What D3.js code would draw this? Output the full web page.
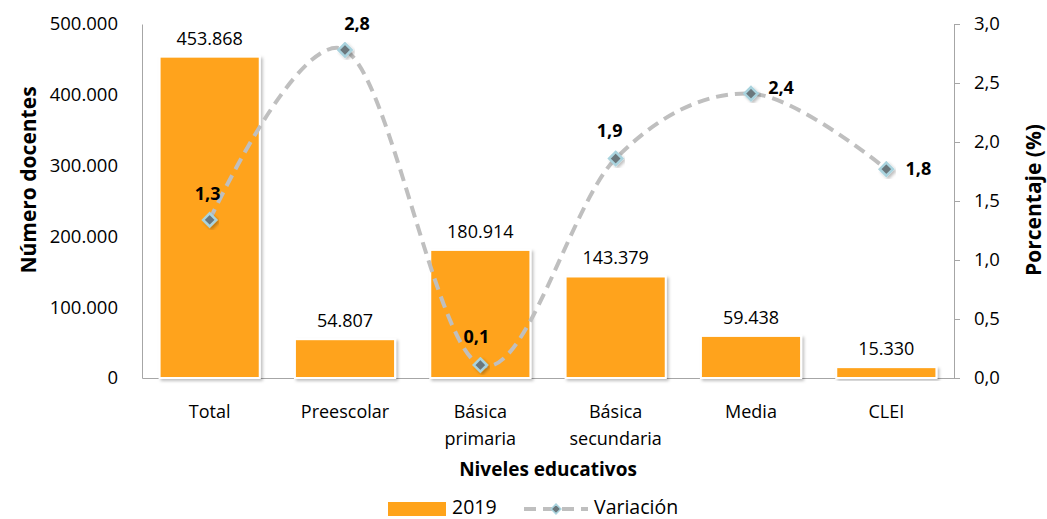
<html>
<head>
<meta charset="UTF-8">
<title>Docentes por nivel educativo</title>
<script src="https://cdn.jsdelivr.net/npm/d3@7"></script>
<style>
  body { margin: 0; background: #fff; font-family: 'Open Sans', sans-serif; color: #000; }
  .tick text { font-family: 'Open Sans', sans-serif; }
</style>
</head>
<body>
<div id="chart"></div>
<script>
// data
var categories = ["Total", "Preescolar", "Básica primaria", "Básica secundaria", "Media", "CLEI"];
var docentes2019 = [453868, 54807, 180914, 143379, 59438, 15330];
var variacion = [1.34, 2.78, 0.11, 1.86, 2.41, 1.77];
var leftTicks = [0, 100000, 200000, 300000, 400000, 500000];
var rightTicks = [0, 0.5, 1, 1.5, 2, 2.5, 3];

var width = 1047, height = 519;
var plotLeft = 142, plotRight = 954, plotTop = 24, plotBottom = 378;

var svg = d3.select("#chart").append("svg")
  .attr("width", width).attr("height", height);

var defs = svg.append("defs");
var sh = defs.append("filter").attr("id", "shadow")
  .attr("x", "-10%").attr("y", "-10%").attr("width", "130%").attr("height", "130%");
sh.append("feDropShadow").attr("dx", 2).attr("dy", 2).attr("stdDeviation", 1.5)
  .attr("flood-color", "#000").attr("flood-opacity", 0.25);

var x = d3.scaleBand().domain(categories).range([plotLeft, plotRight]).paddingInner(0.26).paddingOuter(0.13);
var xc = d3.scalePoint().domain(categories).range([plotLeft, plotRight]).padding(0.5);
var y = d3.scaleLinear().domain([0, 500000]).range([plotBottom, plotTop]);
var y2 = d3.scaleLinear().domain([0, 3]).range([plotBottom, plotTop]);

var loc = d3.formatLocale({ decimal: ",", thousands: ".", grouping: [3] });
var fmtThousands = loc.format(",.0f");
var fmtDec = loc.format(".1f");

// left axis
var ay = svg.append("g").attr("transform", "translate(" + plotLeft + ",0)")
  .call(d3.axisLeft(y).tickValues(leftTicks).tickSize(0).tickPadding(24).tickFormat(fmtThousands));
ay.select(".domain").attr("stroke", "#a6a6a6");
ay.selectAll("text").attr("font-size", 18.5).attr("fill", "#000");

// right axis
var ay2 = svg.append("g").attr("transform", "translate(" + plotRight + ",0)")
  .call(d3.axisRight(y2).tickValues(rightTicks).tickSizeInner(6).tickSizeOuter(6).tickPadding(14).tickFormat(fmtDec));
ay2.selectAll("path, line").attr("stroke", "#a6a6a6");
ay2.selectAll("text").attr("font-size", 18.5).attr("fill", "#000");

// x axis
var ax = svg.append("g").attr("transform", "translate(0," + plotBottom + ")")
  .call(d3.axisBottom(xc).tickSize(0).tickFormat(""));
ax.select(".domain").attr("stroke", "#a6a6a6");

// category labels (two lines for long names)
svg.append("g").selectAll("text").data(categories).enter().append("text")
  .attr("x", function(d) { return xc(d); })
  .attr("y", 418)
  .attr("text-anchor", "middle")
  .attr("font-size", 18)
  .each(function(d) {
    var words = d.split(" ");
    var t = d3.select(this);
    words.forEach(function(w, i) {
      t.append("tspan").attr("x", xc(d)).attr("dy", i === 0 ? 0 : 27).text(w);
    });
  });

// bars
svg.append("g").selectAll("rect").data(categories).enter().append("rect")
  .attr("x", function(d) { return x(d); })
  .attr("y", function(d, i) { return y(docentes2019[i]); })
  .attr("width", x.bandwidth())
  .attr("height", function(d, i) { return plotBottom - y(docentes2019[i]); })
  .attr("fill", "#ffa31a")
  .attr("stroke", "#ffffff")
  .attr("stroke-width", 2)
  .attr("filter", "url(#shadow)");

// bar labels
svg.append("g").selectAll("text").data(categories).enter().append("text")
  .attr("x", function(d) { return xc(d); })
  .attr("y", function(d, i) { return y(docentes2019[i]) - 12; })
  .attr("text-anchor", "middle")
  .attr("font-size", 18)
  .text(function(d, i) { return fmtThousands(docentes2019[i]); });

// variation line
var line = d3.line()
  .x(function(d, i) { return xc(categories[i]); })
  .y(function(d) { return y2(d); })
  .curve(d3.curveCardinal.tension(0));

svg.append("path").datum(variacion)
  .attr("d", line)
  .attr("fill", "none")
  .attr("stroke", "#bfbfbf")
  .attr("stroke-width", 4)
  .attr("stroke-dasharray", "12,7");

// markers
svg.append("g").selectAll("path").data(variacion).enter().append("path")
  .attr("d", d3.symbol().type(d3.symbolDiamond2).size(110))
  .attr("transform", function(d, i) { return "translate(" + xc(categories[i]) + "," + y2(d) + ")"; })
  .attr("fill", "#6b777c")
  .attr("stroke", "#a9d3de")
  .attr("stroke-width", 2.5)
  .attr("filter", "url(#shadow)");

// variation labels (offsets are layout only)
var labelOffsets = [[-2, -20], [12, -20], [-4, -22], [-6, -22], [30, 0], [32, 6]];
svg.append("g").selectAll("text").data(variacion).enter().append("text")
  .attr("x", function(d, i) { return xc(categories[i]) + labelOffsets[i][0]; })
  .attr("y", function(d, i) { return y2(d) + labelOffsets[i][1]; })
  .attr("text-anchor", "middle")
  .attr("font-size", 18)
  .attr("font-weight", "bold")
  .text(function(d) { return fmtDec(d); });

// axis titles
svg.append("text")
  .attr("transform", "translate(36,180) rotate(-90)")
  .attr("text-anchor", "middle")
  .attr("font-size", 21).attr("font-weight", "bold")
  .text("Número docentes");

svg.append("text")
  .attr("transform", "translate(1041,200) rotate(-90)")
  .attr("text-anchor", "middle")
  .attr("font-size", 21).attr("font-weight", "bold")
  .text("Porcentaje (%)");

svg.append("text")
  .attr("x", (plotLeft + plotRight) / 2).attr("y", 476)
  .attr("text-anchor", "middle")
  .attr("font-size", 19).attr("font-weight", "bold")
  .text("Niveles educativos");

// legend
var lg = svg.append("g");
lg.append("rect").attr("x", 388).attr("y", 502).attr("width", 58).attr("height", 14).attr("fill", "#ffa31a");
lg.append("text").attr("x", 452).attr("y", 514).attr("font-size", 19.5).text("2019");
lg.append("line").attr("x1", 524).attr("x2", 588).attr("y1", 509).attr("y2", 509)
  .attr("stroke", "#bfbfbf").attr("stroke-width", 4).attr("stroke-dasharray", "12,7");
lg.append("path").attr("d", d3.symbol().type(d3.symbolDiamond2).size(60))
  .attr("transform", "translate(556,509)").attr("fill", "#6b777c").attr("stroke", "#a9d3de").attr("stroke-width", 1.5);
lg.append("text").attr("x", 594).attr("y", 514).attr("font-size", 19.5).text("Variación");
</script>
</body>
</html>
